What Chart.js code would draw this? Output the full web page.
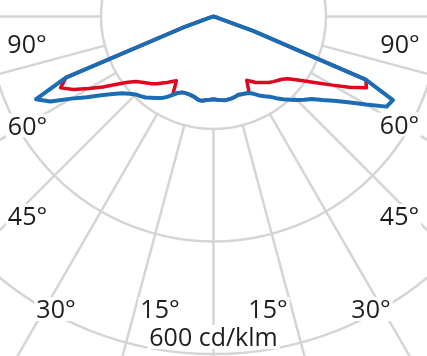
<!DOCTYPE html>
<html><head><meta charset="utf-8">
<style>html,body{margin:0;padding:0;background:#fff;overflow:hidden}canvas{display:block}</style>
<script src="https://cdn.jsdelivr.net/npm/chart.js@4.4.0/dist/chart.umd.min.js"></script>
</head><body>
<canvas id="c" width="427" height="356"></canvas>
<script>
// Polar intensity data (cd/klm), gamma angle measured from nadir (downwards)
const gamma = [0,2.5,5,7.5,10,12.5,15,17.5,20,22.5,25,27.5,30,32.5,35,37.5,40,42.5,45,47.5,50,52.5,55,57.5,60,62.5,65,67.5,70,72.5,75,77.5,80,82.5,85,87.5,90,92.5,95,97.5,100,102.5,105,107.5,110,112.5,115,117.5,120,122.5,125,127.5,130,132.5,135,137.5,140,142.5,145,147.5,150,152.5,155,157.5,160,162.5,165,167.5,170,172.5,175,177.5,180];
// left half of the diagram
const blueLeft = [147,148,149,151,151,148,146,145,145,146,150,157,165,172,177,182,188,192,196,203,212,226,244,267,292,327,348,284,57,7,0,0,0,0,0,0,0,0,0,0,0,0,0,0,0,0,0,0,0,0,0,0,0,0,0,0,0,0,0,0,0,0,0,0,0,0,0,0,0,0,0,0,0];
const redLeft = [147,148,149,151,151,148,146,145,145,146,150,157,132,137,143,149,156,162,167,173,180,192,210,233,256,281,300,284,57,7,0,0,0,0,0,0,0,0,0,0,0,0,0,0,0,0,0,0,0,0,0,0,0,0,0,0,0,0,0,0,0,0,0,0,0,0,0,0,0,0,0,0,0];
// right half of the diagram
const blueRight = [147,148,149,150,150,149,148,146,147,148,150,155,162,168,174,183,192,201,210,219,228,244,261,284,313,347,352,293,75,9,0,0,0,0,0,0,0,0,0,0,0,0,0,0,0,0,0,0,0,0,0,0,0,0,0,0,0,0,0,0,0,0,0,0,0,0,0,0,0,0,0,0,0];
const redRight = [147,148,149,150,150,149,148,146,147,148,150,128,133,139,143,148,153,157,161,165,172,185,201,220,244,272,300,293,75,9,0,0,0,0,0,0,0,0,0,0,0,0,0,0,0,0,0,0,0,0,0,0,0,0,0,0,0,0,0,0,0,0,0,0,0,0,0,0,0,0,0,0,0];
const ringValues = [200, 400, 600];
const angleTickLabels = ['90°','60°','45°','30°','15°','15°','30°','45°','60°','90°'];
const unitLabel = '600 cd/klm';

// full circle, clockwise from nadir: left half then right half going back down
function fullCircle(left, right) {
  return left.concat(right.slice(1, right.length - 1).reverse());
}
const circleLabels = fullCircle(gamma, gamma).map(g => g + '°');

const GRID = '#d5d5d5';
const BLUE = '#1a6db5';
const RED = '#e1061f';
const TEXT = '#1d1d1b';
const FONT = '25px "Open Sans"';

const radialLines = {
  id: 'radialLines',
  beforeDatasetsDraw(chart) {
    const s = chart.scales.r, ctx = chart.ctx;
    ctx.save();
    ctx.strokeStyle = GRID;
    ctx.lineWidth = 2.5;
    const n = chart.data.labels.length;
    const step = n / 24; // every 15 degrees
    for (let k = 0; k < n; k += step) {
      const a = s.getPointPositionForValue(k, ringValues[0]);
      const b = s.getPointPositionForValue(k, 1500);
      ctx.beginPath();
      ctx.moveTo(a.x, a.y);
      ctx.lineTo(b.x, b.y);
      ctx.stroke();
    }
    ctx.restore();
  }
};

const labelPlacement = [
  [27, 53], [27.5, 134.5], [27.5, 225], [56, 318], [160, 318],
  [268, 318], [371, 318], [399.5, 225], [399.5, 133.5], [400, 53]
];
const textLabels = {
  id: 'textLabels',
  afterDraw(chart) {
    const ctx = chart.ctx;
    ctx.save();
    ctx.font = FONT;
    ctx.textAlign = 'center';
    ctx.textBaseline = 'alphabetic';
    const items = angleTickLabels.map((t, i) => [t, labelPlacement[i][0], labelPlacement[i][1]]);
    items.push([unitLabel, 213.5, 346]);
    items.forEach(([t, x, y]) => {
      const w = ctx.measureText(t).width;
      ctx.fillStyle = '#fff';
      ctx.fillRect(x - w / 2 - 2, y - 21, w + 4, 24);
    });
    items.forEach(([t, x, y]) => {
      ctx.fillStyle = TEXT;
      ctx.fillText(t, x, y);
    });
    ctx.restore();
  }
};

new Chart(document.getElementById('c'), {
  type: 'radar',
  data: {
    labels: circleLabels,
    datasets: [
      { label: 'C0-C180', data: fullCircle(blueLeft, blueRight), borderColor: BLUE, borderWidth: 4, fill: false, pointRadius: 0, pointHoverRadius: 0, borderJoinStyle: 'round', tension: 0 },
      { label: 'C90-C270', data: fullCircle(redLeft, redRight), borderColor: RED, borderWidth: 3.5, fill: false, pointRadius: 0, pointHoverRadius: 0, borderJoinStyle: 'round', tension: 0 }
    ]
  },
  options: {
    responsive: false,
    animation: false,
    layout: { padding: 0 },
    plugins: { legend: { display: false }, tooltip: { enabled: false } },
    scales: {
      r: {
        min: 0, max: 600, startAngle: 180,
        ticks: { display: false, stepSize: 200 },
        pointLabels: { display: false },
        angleLines: { display: false },
        grid: { circular: true, color: GRID, lineWidth: 2.5 },
        afterFit(scale) {
          scale.xCenter = 213.5;
          scale.yCenter = 16.5;
          scale.drawingArea = 337.5;
        }
      }
    }
  },
  plugins: [radialLines, textLabels]
});
</script>
</body></html>
